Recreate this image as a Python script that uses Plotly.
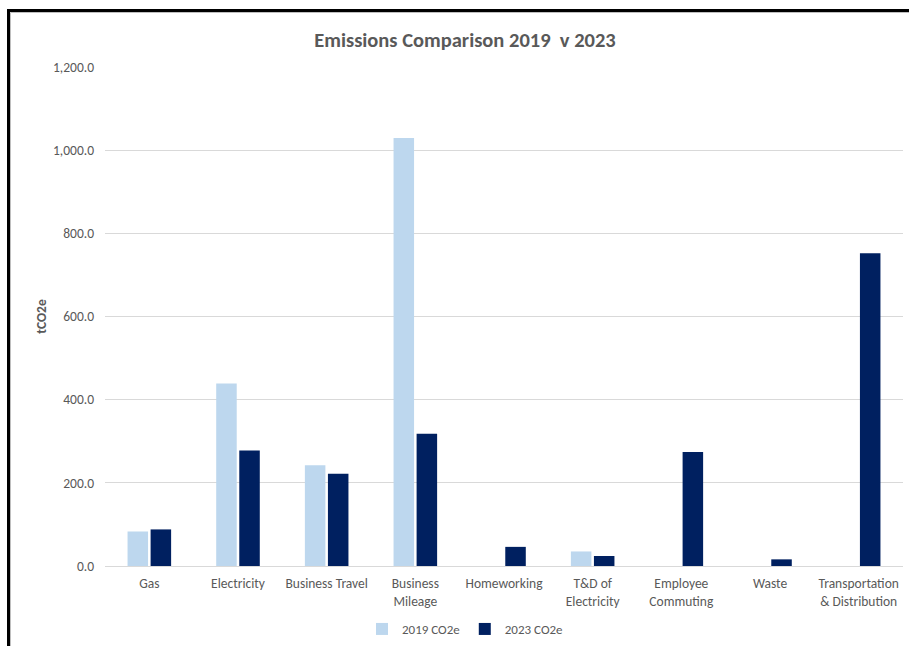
import plotly.graph_objects as go

categories = ["Gas", "Electricity", "Business Travel", "Business<br>Mileage", "Homeworking",
              "T&D of<br>Electricity", "Employee<br>Commuting", "Waste", "Transportation<br>& Distribution"]
co2e_2019 = [83, 439, 242, 1029, 0, 35, 0, 0, 0]
co2e_2023 = [88, 278, 222, 318, 46, 24, 274, 16, 752]
y_ticks = [0, 200, 400, 600, 800, 1000, 1200]

FONT = "Carlito, 'Liberation Sans Narrow', Lato, 'Open Sans', sans-serif"
GREY = "#595959"

fig = go.Figure()
fig.add_trace(go.Bar(name="2019 CO2e", x=categories, y=co2e_2019,
                     marker=dict(color="#BDD7EE", line=dict(width=0))))
fig.add_trace(go.Bar(name="2023 CO2e", x=categories, y=co2e_2023,
                     marker=dict(color="#002060", line=dict(width=0))))

W, H = 909, 646
L, R, T, B = 105, 6, 67, 80
pw, ph = W - L - R, H - T - B

def px_to_paper_x(px):
    return (px - L) / pw

def px_to_paper_y(py):
    return (H - B - py) / ph

fig.update_layout(
    width=W, height=H,
    margin=dict(l=L, r=R, t=T, b=B, autoexpand=False),
    paper_bgcolor="white", plot_bgcolor="white",
    barmode="group", bargap=0.48, bargroupgap=0.11,
    font=dict(family=FONT, color=GREY, size=13),
    title=dict(text="<b>Emissions Comparison 2019  v 2023</b>",
               font=dict(family=FONT, size=20.5, color=GREY),
               x=465 / W, xref="container", xanchor="center",
               y=1 - 40 / H, yref="container", yanchor="middle"),
    xaxis=dict(showgrid=False, showline=True, linecolor="#D9D9D9", linewidth=1,
               ticks="", ticklabelstandoff=5, tickfont=dict(size=13.5, color=GREY)),
    yaxis=dict(range=[0, 1200], tickvals=y_ticks, tickformat=",.1f",
               showgrid=True, gridcolor="#D9D9D9", gridwidth=1,
               zeroline=False, showline=False, ticks="", ticklen=0,
               ticklabelstandoff=10,
               tickfont=dict(size=13.5, color=GREY),
               title=dict(text="<b>tCO2e</b>", font=dict(size=13.5, color=GREY), standoff=3)),
    legend=dict(orientation="h", x=px_to_paper_x(465), xanchor="center",
                y=px_to_paper_y(629), yanchor="middle",
                font=dict(size=13, color=GREY), itemwidth=30,
                traceorder="normal"),
    showlegend=True,
)

# outer frame (black thick line on left and top, thin grey inner line)
fig.add_shape(type="line", xref="paper", yref="paper",
              x0=px_to_paper_x(8.5), x1=px_to_paper_x(8.5),
              y0=px_to_paper_y(10.5), y1=px_to_paper_y(H + 5),
              line=dict(color="black", width=3))
fig.add_shape(type="line", xref="paper", yref="paper",
              x0=px_to_paper_x(7), x1=px_to_paper_x(W + 5),
              y0=px_to_paper_y(10.5), y1=px_to_paper_y(10.5),
              line=dict(color="black", width=3))
fig.add_shape(type="line", xref="paper", yref="paper",
              x0=px_to_paper_x(10.5), x1=px_to_paper_x(10.5),
              y0=px_to_paper_y(12.5), y1=px_to_paper_y(H + 5),
              line=dict(color="#BFBFBF", width=1))
fig.add_shape(type="line", xref="paper", yref="paper",
              x0=px_to_paper_x(10.5), x1=px_to_paper_x(W + 5),
              y0=px_to_paper_y(12.5), y1=px_to_paper_y(12.5),
              line=dict(color="#BFBFBF", width=1))

fig.write_html("out.html", config={"displayModeBar": False},
               post_script="document.body.style.margin='0';document.body.style.overflow='hidden';")
